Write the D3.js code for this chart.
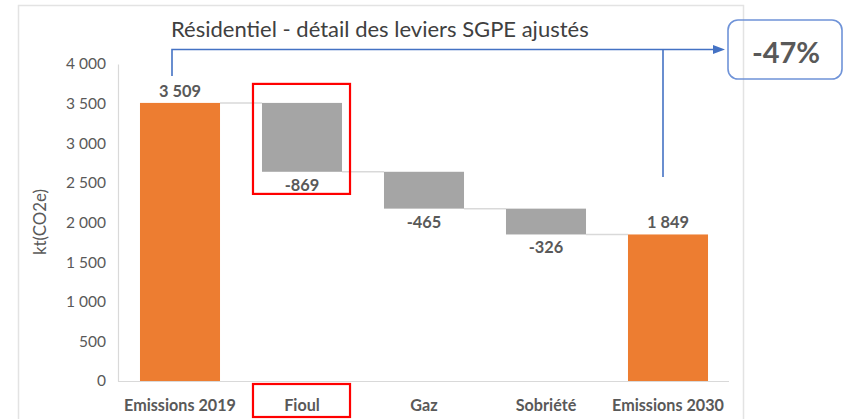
<!DOCTYPE html>
<html><head><meta charset="utf-8">
<script src="https://cdn.jsdelivr.net/npm/d3@7"></script>
<style>body{margin:0;background:#fff}svg{display:block}text{font-family:Lato,"Open Sans",sans-serif}</style>
</head><body>
<svg id="c" width="848" height="419"></svg>
<script>
const categories = ["Emissions 2019","Fioul","Gaz","Sobriété","Emissions 2030"];
const values = [3509, -869, -465, -326, 1849];
const barTypes = ["total","delta","delta","delta","total"];
const valueLabels = ["3 509","-869","-465","-326","1 849"];
const yTicks = [0,500,1000,1500,2000,2500,3000,3500,4000];
const title = "Résidentiel - détail des leviers SGPE ajustés";
const yTitle = "kt(CO2e)";
const changeLabel = "-47%";

const svg = d3.select("#c");
const grey = "#595959";

function fitSize(sel, w){
  const n = sel.node(); const fs = parseFloat(sel.attr("font-size"));
  return fs*w/n.getComputedTextLength();
}

// outer frame
svg.append("rect").attr("x",18.5).attr("y",5.5).attr("width",725).attr("height",430)
  .attr("fill","none").attr("stroke","#e3e3e3").attr("stroke-width",1.5);

const x = d3.scaleBand().domain(categories).range([119,729]).paddingInner(0.344).paddingOuter(0.172);
const y = d3.scaleLinear().domain([0,4000]).range([381,64]);

// compute waterfall
let run = 0;
const bars = categories.map((c,i)=>{
  let y0,y1;
  if(barTypes[i]==="total"){ y0=0; y1=values[i]; run=values[i]; }
  else { y0=run; y1=run+values[i]; run=y1; }
  return {c, v:values[i], t:barTypes[i], lo:Math.min(y0,y1), hi:Math.max(y0,y1), end:y1, label:valueLabels[i]};
});

// y axis
const yAxis = d3.axisLeft(y).tickValues(yTicks).tickSize(0).tickPadding(12)
  .tickFormat(d=>d3.format(",")(d).replace(/,/g," "));
const ga = svg.append("g").attr("transform","translate(118,0)").call(yAxis);
ga.select(".domain").attr("stroke","#d9d9d9").attr("stroke-width",1.2);
ga.selectAll("text").attr("fill",grey).attr("font-size",15).attr("font-family","Lato");
{
  const t = ga.selectAll("text").filter(d=>d===3500);
  const fs = fitSize(t,40);
  ga.selectAll("text").attr("font-size",fs);
}

// x axis
const xAxis = d3.axisBottom(x).tickSize(0).tickPadding(19);
const gx = svg.append("g").attr("transform","translate(0,381)").call(xAxis);
gx.select(".domain").attr("stroke","#d9d9d9").attr("stroke-width",1.2).attr("d","M118,0.5H729");
gx.selectAll("text").attr("fill",grey).attr("font-size",14.5).attr("font-weight","bold").attr("font-family","Lato");
{
  const t = gx.selectAll("text").filter(d=>d===categories[0]);
  gx.selectAll("text").attr("font-size",fitSize(t,112));
}

// connectors
for(let i=0;i<bars.length-1;i++){
  const yy = y(bars[i].end);
  svg.append("line").attr("x1",x(bars[i].c)+x.bandwidth()).attr("x2",x(bars[i+1].c))
    .attr("y1",yy).attr("y2",yy).attr("stroke","#d9d9d9").attr("stroke-width",1.5);
}

// bars
svg.selectAll("rect.bar").data(bars).join("rect").attr("class","bar")
  .attr("x",d=>x(d.c)).attr("width",x.bandwidth())
  .attr("y",d=>y(d.hi)).attr("height",d=>y(d.lo)-y(d.hi))
  .attr("fill",d=>d.t==="total"?"#ED7D31":"#A5A5A5");

// value labels
const vl = svg.selectAll("text.vl").data(bars).join("text").attr("class","vl")
  .attr("x",d=>x(d.c)+x.bandwidth()/2)
  .attr("y",d=>d.t==="total"? y(d.hi)-6 : y(d.lo)+19)
  .attr("text-anchor","middle").attr("fill",grey).attr("font-size",14.5).attr("font-weight","bold")
  .text(d=>d.label);
vl.attr("font-size",fitSize(vl.filter((d,i)=>i===0),42));

// y title
const yt = svg.append("text").attr("transform","translate(46,222) rotate(-90)").attr("text-anchor","middle")
  .attr("fill",grey).attr("font-size",14).text(yTitle);
yt.attr("font-size",fitSize(yt,66));

// title
const tt = svg.append("text").attr("x",171).attr("y",37).attr("fill","#404040").attr("font-size",20).text(title);
tt.attr("font-size",fitSize(tt,418));

// red highlight boxes
const fx = x("Fioul");
svg.append("rect").attr("x",fx-9).attr("y",y(bars[1].hi)-19).attr("width",x.bandwidth()+17).attr("height",110)
  .attr("fill","none").attr("stroke","#ff0000").attr("stroke-width",2.2);
svg.append("rect").attr("x",fx-9).attr("y",384).attr("width",x.bandwidth()+17).attr("height",33)
  .attr("fill","none").attr("stroke","#ff0000").attr("stroke-width",2.2);

// blue bracket
const blue = "#4472C4";
const cx0 = x(categories[0])+x.bandwidth()/2 - 8;
const cx1 = x(categories[4])+x.bandwidth()/2 - 5;
svg.append("path").attr("d",`M${cx0},76V49.5H716`).attr("fill","none").attr("stroke",blue).attr("stroke-width",1.6);
svg.append("path").attr("d","M713,45L725,49.5L713,54Z").attr("fill",blue);
svg.append("line").attr("x1",cx1).attr("x2",cx1).attr("y1",49.5).attr("y2",177).attr("stroke",blue).attr("stroke-width",1.6);

// -47% box
svg.append("rect").attr("x",728).attr("y",20).attr("width",114).attr("height",59).attr("rx",10)
  .attr("fill","none").attr("stroke","#6f93d8").attr("stroke-width",1.6);
svg.append("text").attr("x",786).attr("y",63).attr("text-anchor","middle").attr("fill",grey)
  .attr("font-size",29).attr("font-weight","bold").text(changeLabel);
</script>
</body></html>
